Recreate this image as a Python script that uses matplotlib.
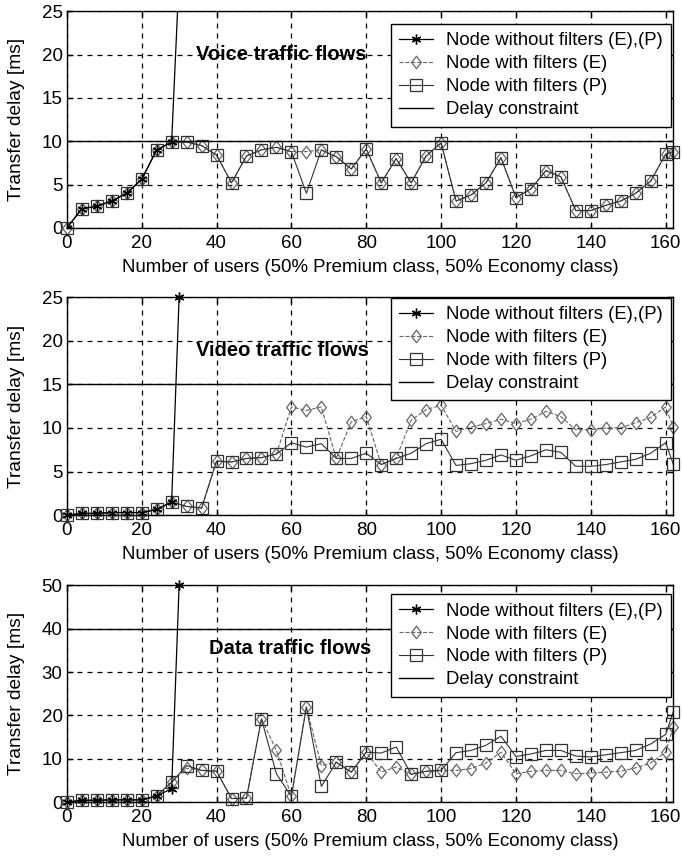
import numpy as np
import matplotlib
matplotlib.use('Agg')
import matplotlib.pyplot as plt
from matplotlib.path import Path

plt.rcParams['font.family'] = ['Liberation Sans', 'DejaVu Sans']

users = [0, 4, 8, 12, 16, 20, 24, 28, 32, 36, 40, 44, 48, 52, 56, 60, 64, 68, 72, 76,
         80, 84, 88, 92, 96, 100, 104, 108, 112, 116, 120, 124, 128, 132, 136, 140,
         144, 148, 152, 156, 160, 162]
users_nofilter = [0, 4, 8, 12, 16, 20, 24, 28, 30]

# voice
voice_nofilter = [0, 2.2, 2.5, 3.1, 4.0, 5.6, 9.0, 9.9, 29]
voice_E = [0, 2.2, 2.5, 3.1, 4.0, 5.6, 9.0, 9.9, 9.9, 9.5, 8.4, 5.2, 8.3, 9.0, 9.3, 8.8,
           8.8, 9.0, 8.2, 6.8, 9.1, 5.2, 8.0, 5.2, 8.3, 9.8, 3.1, 3.8, 5.2, 8.1, 3.5, 4.5,
           6.6, 5.9, 2.0, 2.0, 2.6, 3.1, 4.0, 5.4, 8.5, 8.8]
voice_P = [0, 2.2, 2.5, 3.1, 4.0, 5.6, 9.0, 9.9, 9.9, 9.5, 8.4, 5.2, 8.3, 9.0, 9.3, 8.8,
           4.0, 9.0, 8.2, 6.8, 9.1, 5.2, 8.0, 5.2, 8.3, 9.8, 3.1, 3.8, 5.2, 8.1, 3.5, 4.5,
           6.6, 5.9, 2.0, 2.0, 2.6, 3.1, 4.0, 5.4, 8.5, 8.8]

# video
video_nofilter = [0, 0.2, 0.2, 0.3, 0.3, 0.3, 0.65, 1.5, 25]
video_E = [0, 0.2, 0.2, 0.3, 0.3, 0.3, 0.65, 1.5, 1.0, 0.8, 6.2, 6.1, 6.5, 6.6, 7.0, 12.4,
           12.0, 12.4, 6.5, 10.7, 11.3, 5.8, 6.5, 10.9, 12.1, 12.6, 9.6, 10.1, 10.5, 11.0,
           10.5, 11.0, 11.9, 11.3, 9.8, 9.8, 10.0, 10.0, 10.6, 11.2, 12.4, 10.1]
video_P = [0, 0.2, 0.2, 0.3, 0.3, 0.3, 0.65, 1.5, 1.0, 0.8, 6.2, 6.1, 6.5, 6.6, 7.0, 8.3,
           7.8, 8.2, 6.5, 6.5, 7.1, 5.8, 6.5, 7.1, 8.2, 8.7, 5.7, 5.9, 6.3, 6.9, 6.3, 6.8,
           7.5, 7.2, 5.6, 5.6, 5.8, 6.1, 6.4, 7.1, 8.3, 5.9]

# data
data_nofilter = [0, 0.4, 0.4, 0.5, 0.5, 0.5, 1.4, 3.1, 50]
data_E = [0, 0.4, 0.4, 0.5, 0.5, 0.5, 1.4, 4.6, 7.8, 7.3, 7.1, 0.8, 0.9, 19.2, 11.9, 1.3,
          21.9, 8.4, 9.2, 6.9, 11.5, 6.9, 8.1, 6.4, 7.1, 7.3, 7.3, 7.7, 9.0, 11.5, 6.5, 7.1,
          7.3, 7.3, 6.5, 6.7, 6.9, 7.1, 7.9, 9.0, 11.5, 17.3]
data_P = [0, 0.4, 0.4, 0.5, 0.5, 0.5, 1.4, 4.6, 8.4, 7.3, 7.1, 0.8, 0.9, 19.2, 6.5, 1.3,
          21.9, 3.6, 9.2, 6.9, 11.5, 11.3, 12.7, 6.4, 7.1, 7.3, 11.4, 11.9, 13.1, 15.2,
          10.5, 11.1, 11.9, 11.9, 10.6, 10.4, 10.9, 11.4, 11.9, 13.4, 15.6, 20.7]

panels = [
    (voice_nofilter, voice_E, voice_P, 10, 25, 5, 'Voice traffic flows', 34.6, 20.0, 13),
    (video_nofilter, video_E, video_P, 15, 25, 5, 'Video traffic flows', 34.6, 18.9, 1),
    (data_nofilter, data_E, data_P, 40, 50, 10, 'Data traffic flows', 38, 35.5, 9),
]
boxes = [[0.098, 0.735, 0.889, 0.252],
         [0.098, 0.401, 0.889, 0.2535],
         [0.098, 0.0674, 0.889, 0.252]]

# slightly tall diamond like the original marker
diamond = Path([(0, -1), (0.77, 0), (0, 1), (-0.77, 0), (0, -1)],
               [Path.MOVETO, Path.LINETO, Path.LINETO, Path.LINETO, Path.CLOSEPOLY])

fig = plt.figure(figsize=(6.82, 8.6), dpi=100)

for (nf, e, p, limit, ymax, ystep, title, tx, ty, legtop), box in zip(panels, boxes):
    ax = fig.add_axes(box)
    # the voice curve runs off the top, so only clip that one
    ax.plot(users_nofilter, nf, '-', color='black', marker=(6, 2, 0), ms=7, mew=1.0,
            lw=0.9, label='Node without filters (E),(P)', clip_on=max(nf) > ymax, zorder=3)
    ax.plot(users, e, '--', color='0.4', marker=diamond, ms=9, mfc='none', mec='0.4',
            mew=0.9, lw=0.8, label='Node with filters (E)', clip_on=False)
    ax.plot(users, p, '-', color='0.2', marker='s', ms=8, mfc='none', mec='0.2',
            mew=0.9, lw=0.8, label='Node with filters (P)', clip_on=False)
    ax.axhline(limit, color='black', lw=1.0, label='Delay constraint')
    ax.set_xlim(0, 162)
    ax.set_ylim(0, ymax)
    ax.set_xticks([0, 20, 40, 60, 80, 100, 120, 140, 160])
    ax.set_yticks(np.arange(0, ymax + 1, ystep))
    ax.grid(True, color='black', linestyle=(0, (4, 4)), lw=0.9)
    ax.tick_params(direction='in', labelsize=13.5, length=4, width=1, top=True, right=True)
    ax.tick_params(axis='x', pad=5)
    ax.tick_params(axis='y', pad=3)
    for s in ax.spines.values():
        s.set_linewidth(1.0)
    ax.set_xlabel('Number of users (50% Premium class, 50% Economy class)', fontsize=13.4)
    ax.xaxis.set_label_coords(0.5, -31 / 217)
    ax.set_ylabel('Transfer delay [ms]', fontsize=13.8)
    ax.yaxis.set_label_coords(-42 / 606, 0.5)
    ax.text(tx, ty, title, fontsize=14.5, fontweight='bold', va='center', ha='left')
    leg = ax.legend(loc='upper right', bbox_to_anchor=(1 - 2.5 / 606, 1 - legtop / 217),
                    borderaxespad=0, fontsize=13.3, fancybox=False, framealpha=1,
                    edgecolor='black', labelspacing=0.32, handlelength=1.8,
                    borderpad=0.45, handletextpad=0.7)
    leg.get_frame().set_linewidth(1.0)
    leg.set_zorder(5)

fig.savefig('out.png', dpi=100)
